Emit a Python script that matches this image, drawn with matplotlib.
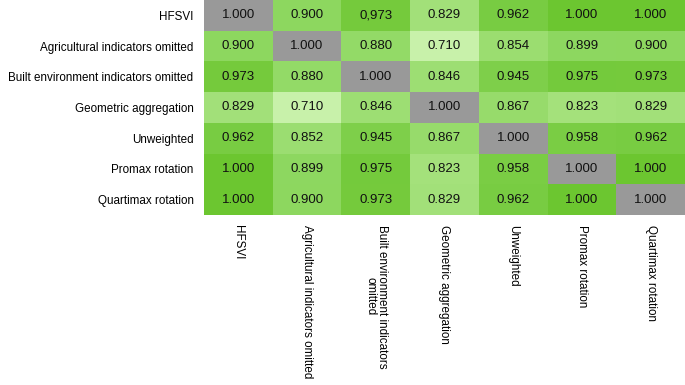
import matplotlib
matplotlib.use('Agg')
import matplotlib.pyplot as plt
import numpy as np
from matplotlib.colors import LinearSegmentedColormap

plt.rcParams['font.family'] = ['Liberation Sans', 'DejaVu Sans']

row_labels = ['HFSVI', 'Agricultural indicators omitted', 'Built environment indicators omitted',
              'Geometric aggregation', 'Unweighted', 'Promax rotation', 'Quartimax rotation']
col_labels = ['HFSVI', 'Agricultural indicators omitted', 'Built environment indicators\nomitted',
              'Geometric aggregation', 'Unweighted', 'Promax rotation', 'Quartimax rotation']

hfsvi = [1.000, 0.900, 0.973, 0.829, 0.962, 1.000, 1.000]
agri = [0.900, 1.000, 0.880, 0.710, 0.854, 0.899, 0.900]
built = [0.973, 0.880, 1.000, 0.846, 0.945, 0.975, 0.973]
geom = [0.829, 0.710, 0.846, 1.000, 0.867, 0.823, 0.829]
unw = [0.962, 0.852, 0.945, 0.867, 1.000, 0.958, 0.962]
promax = [1.000, 0.899, 0.975, 0.823, 0.958, 1.000, 1.000]
quartimax = [1.000, 0.900, 0.973, 0.829, 0.962, 1.000, 1.000]

vals = np.array([hfsvi, agri, built, geom, unw, promax, quartimax])
n = len(row_labels)

# the first row has a comma typo in the source table
texts = [['%.3f' % v for v in row] for row in vals]
texts[0][2] = '0,973'

cmap = LinearSegmentedColormap.from_list('g', [(0.0, '#c8f1aa'), (0.4, '#a3e07a'),
                                               (0.633, '#8fd862'), (1.0, '#6cc630')])
cmap.set_bad('#999999')

masked = np.ma.masked_where(np.eye(n, dtype=bool), vals)

fig = plt.figure(figsize=(6.85, 3.85), dpi=100)
ax = fig.add_axes([204/685, 1 - 215/385, 481/685, 215/385])
ax.pcolormesh(masked, cmap=cmap, vmin=0.71, vmax=1.0)
ax.set_xlim(0, n)
ax.set_ylim(n, 0)

for i in range(n):
    for j in range(n):
        ax.text(j + 0.5, i + 0.5, texts[i][j], ha='center', va='center', fontsize=9.5, color='#111111')

ax.set_xticks(np.arange(n) + 0.5)
ax.set_yticks(np.arange(n) + 0.5)
ax.set_xticklabels(col_labels, rotation=270, ha='center', va='top', fontsize=8.4, linespacing=0.95)
ax.set_yticklabels(row_labels, fontsize=8.4)
ax.tick_params(axis='y', length=0, pad=7.5)
ax.tick_params(axis='x', length=0, pad=7)
for s in ax.spines.values():
    s.set_visible(False)

fig.savefig('out.png', dpi=100)
